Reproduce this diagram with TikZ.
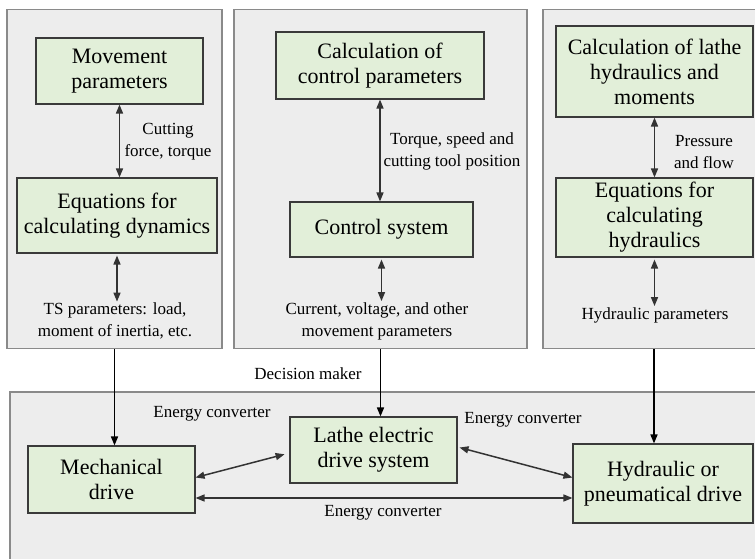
\documentclass[tikz,border=0pt]{standalone}
\usepackage{fontspec}
\setmainfont{Liberation Serif}
\usepackage{xcolor}
\usepackage{tikz}
\usetikzlibrary{arrows}
\usetikzlibrary{arrows.meta}
\definecolor{panelgray}{HTML}{EDEDED}
\definecolor{paneledge}{HTML}{8A8A8A}
\definecolor{boxgreen}{HTML}{E2EFD9}
\definecolor{boxedge}{HTML}{3A3A3A}
\tikzset{
	panel/.style={rectangle,draw=paneledge,fill=panelgray,line width=1.6pt,inner sep=0pt},
	block/.style={rectangle,draw=boxedge,fill=boxgreen,line width=1.1pt,align=center,inner sep=1pt,
		font=\rmfamily\fontsize{22}{25}\selectfont},
	note/.style={align=center,inner sep=1pt,font=\rmfamily\fontsize{17}{22}\selectfont},
	link/.style={{Triangle[length=9pt,width=7pt]}-{Triangle[length=9pt,width=7pt]},draw=black!80,line width=1.5pt},
	feed/.style={-{Triangle[length=9pt,width=7pt]},draw=black,line width=1.5pt}
}

\begin{document}
\begin{tikzpicture}[x=1pt,y=-1pt]
	\clip (0,0) rectangle (755,559);
	\fill[white] (0,0) rectangle (755,559);
	% panels
	\node [panel,minimum width=215pt,minimum height=339pt] (lpanel) at (114.5,179) {};
	\node [panel,minimum width=293pt,minimum height=339pt] (mpanel) at (380.5,179) {};
	\node [panel,minimum width=222pt,minimum height=339pt] (rpanel) at (654,179) {};
	\node [panel,minimum width=760pt,minimum height=180pt] (bpanel) at (390,482) {};
	% left panel
	\node [block,minimum width=167pt,minimum height=66pt] (move) at (119.5,71) {Movement\\parameters};
	\node [block,minimum width=200pt,minimum height=75pt] (dyn) at (117,215.5) {Equations for\\calculating dynamics};
	\node [note] (cut) at (168,142) {Cutting\\force, torque};
	\node [note] (tsp) at (115,321) {TS parameters: load,\\moment of inertia, etc.};
	\draw [link] (move.south) -- (move.south |- dyn.north);
	\draw [link,shorten <=2pt] (dyn.south) -- (dyn.south |- tsp.north);
	% middle panel
	\node [block,minimum width=208pt,minimum height=67pt] (calc) at (380,65.5) {Calculation of\\control parameters};
	\node [block,minimum width=183pt,minimum height=55pt] (ctrl) at (381.5,229.5) {Control system};
	\node [note] (tq) at (452,151) {Torque, speed and\\cutting tool position};
	\node [note] (cur) at (377,321) {Current, voltage, and other\\movement parameters};
	\draw [link] (calc.south) -- (calc.south |- ctrl.north);
	\draw [link,shorten <=2pt] (ctrl.south) -- (ctrl.south |- cur.north);
	% right panel
	\node [block,minimum width=197pt,minimum height=91pt] (hyd) at (654.5,71.5) {Calculation of lathe\\hydraulics and\\moments};
	\node [block,minimum width=197pt,minimum height=79pt] (eqh) at (654.5,217.5) {Equations for\\calculating\\hydraulics};
	\node [note] (pr) at (704,152) {Pressure\\and flow};
	\node [note] (hp) at (655,315) {Hydraulic parameters};
	\draw [link] (hyd.south) -- (hyd.south |- eqh.north);
	\draw [link,shorten <=2pt] (eqh.south) -- (eqh.south |- hp.north);
	% drives
	\node [block,minimum width=167pt,minimum height=67pt] (mech) at (111.5,479.5) {Mechanical\\drive};
	\node [block,minimum width=167pt,minimum height=66pt] (lathe) at (373.5,450) {Lathe electric\\drive system};
	\node [block,minimum width=180pt,minimum height=79pt] (pneu) at (663,483.5) {Hydraulic or\\pneumatical drive};
	\node [note] (dec) at (308,374) {Decision maker};
	\node [note] (ec1) at (212,414) {Energy converter};
	\node [note] (ec2) at (523,420) {Energy converter};
	\node [note] (ec3) at (383,513) {Energy converter};
	\draw [feed] (lpanel.south) -- (lpanel.south |- mech.north);
	\draw [feed] (mpanel.south) -- (mpanel.south |- lathe.north);
	\draw [feed] (rpanel.south) -- (rpanel.south |- pneu.north);
	\draw [link,shorten >=5pt] ([yshift=2pt]mech.east) -- ([yshift=-3pt]lathe.west);
	\draw [link,shorten <=2pt] ([yshift=3pt]lathe.east) -- ([yshift=6pt]pneu.west);
	\draw [link] ([yshift=-18.5pt]mech.east) -- ([yshift=-18.5pt]mech.east -| pneu.west);
\end{tikzpicture}
\end{document}
